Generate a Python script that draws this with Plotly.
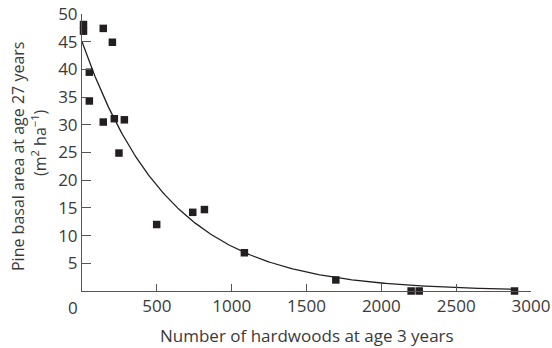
import numpy as np
import plotly.graph_objects as go

# Hardwood density at age 3 vs. pine basal area at age 27
hardwoods = [10, 10, 142, 203, 49, 49, 142, 216, 283, 247, 499, 740, 818, 1085, 1696, 2199, 2253, 2890]
basal_area = [48.1, 46.9, 47.4, 44.9, 39.5, 34.3, 30.5, 31.1, 30.9, 24.9, 12.0, 14.2, 14.7, 6.9, 2.0, 0.0, 0.0, 0.0]

# Fitted exponential decay: y = a * exp(-b * x)
fit_a = 45.0
fit_b = 0.00172
fit_x = np.linspace(0, 2900, 300)
fit_y = fit_a * np.exp(-fit_b * fit_x)

x_ticks = [500, 1000, 1500, 2000, 2500, 3000]
y_ticks = [5, 10, 15, 20, 25, 30, 35, 40, 45, 50]

ink = "#231f20"
txt = "#3a3a3a"
axis_col = "#555555"
font = "Open Sans"
fs = 17

W, H = 552, 348
ML, MR, MT, MB = 82, 21, 14, 57
plot_w = W - ML - MR
plot_h = H - MT - MB


def px_x(p):
    """pixel column -> paper x"""
    return (p - ML) / plot_w


def px_y(p):
    """pixel row -> paper y"""
    return (H - MB - p) / plot_h


fig = go.Figure()
fig.add_trace(go.Scatter(x=fit_x, y=fit_y, mode="lines",
                         line=dict(color=ink, width=1.3), cliponaxis=False,
                         hoverinfo="skip"))
fig.add_trace(go.Scatter(x=hardwoods, y=basal_area, mode="markers",
                         marker=dict(symbol="square", size=7.5, color=ink),
                         cliponaxis=False))

fig.update_layout(
    width=W, height=H,
    margin=dict(l=ML, r=MR, t=MT, b=MB),
    plot_bgcolor="white", paper_bgcolor="white",
    showlegend=False,
    font=dict(family=font, size=fs, color=txt),
    xaxis=dict(range=[0, 3000], tickvals=x_ticks, ticks="inside", ticklen=7,
               tickcolor=axis_col, showline=True, linecolor=axis_col, linewidth=1,
               showgrid=False, zeroline=False, automargin=False),
    yaxis=dict(range=[0, 50], tickvals=y_ticks, ticks="inside", ticklen=9,
               tickcolor=axis_col, showline=True, linecolor=axis_col, linewidth=1,
               showgrid=False, zeroline=False, automargin=False),
    annotations=[
        dict(text="0", x=px_x(72.7), y=0, xref="paper", yref="paper",
             xanchor="center", yanchor="top", yshift=-3, showarrow=False,
             font=dict(size=fs, color=txt)),
        dict(text="Number of hardwoods at age 3 years", x=px_x(306.5), y=px_y(335),
             xref="paper", yref="paper", xanchor="center", yanchor="middle",
             showarrow=False, font=dict(size=fs, color=txt)),
        dict(text="Pine basal area at age 27 years", x=px_x(18), y=px_y(157),
             xref="paper", yref="paper", xanchor="center", yanchor="middle",
             showarrow=False, textangle=-90, font=dict(size=16, color=txt)),
        dict(text="(m<sup>2</sup> ha<sup>\u22121</sup>)", x=px_x(39), y=px_y(143),
             xref="paper", yref="paper", xanchor="center", yanchor="middle",
             showarrow=False, textangle=-90, font=dict(size=16, color=txt)),
    ],
)

fig.write_html("out.html")
